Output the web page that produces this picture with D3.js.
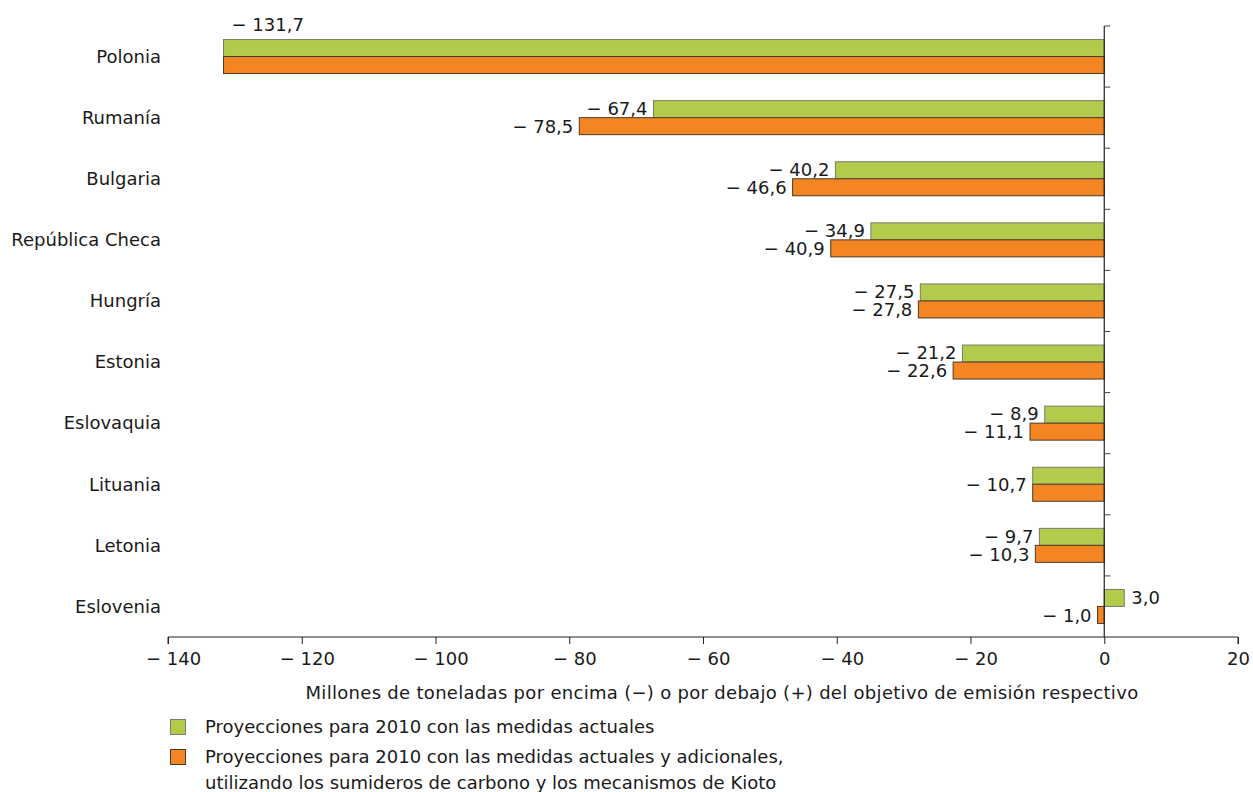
<!DOCTYPE html>
<html>
<head>
<meta charset="utf-8">
<script src="https://cdn.jsdelivr.net/npm/d3@7/dist/d3.min.js"></script>
<style>
  body { margin: 0; background: #fff; }
  svg text { font-family: "DejaVu Sans", Verdana, sans-serif; fill: #1a1a1a; }
</style>
</head>
<body>
<svg id="chart" width="1253" height="792"></svg>
<script>
// Countries, top to bottom
const countries = ["Polonia", "Rumanía", "Bulgaria", "República Checa", "Hungría",
  "Estonia", "Eslovaquia", "Lituania", "Letonia", "Eslovenia"];
// Current measures (Mt CO2-eq relative to target)
const currentMeasures = [-131.7, -67.4, -40.2, -34.9, -27.5, -21.2, -8.9, -10.7, -9.7, 3.0];
// Current + additional measures, sinks and Kyoto mechanisms
const additionalMeasures = [-131.7, -78.5, -46.6, -40.9, -27.8, -22.6, -11.1, -10.7, -10.3, -1.0];
// How the value labels are laid out per country: "pair" = one label per bar,
// "above" = single label above the pair, "shared" = one label centred on the pair
const labelMode = ["above", "pair", "pair", "pair", "pair", "pair", "pair", "shared", "pair", "pair"];
const xTicks = [-140, -120, -100, -80, -60, -40, -20, 0, 20];
const axisTitle = "Millones de toneladas por encima (\u2212) o por debajo (+) del objetivo de emisión respectivo";
const legendLabels = [
  ["Proyecciones para 2010 con las medidas actuales"],
  ["Proyecciones para 2010 con las medidas actuales y adicionales,",
   "utilizando los sumideros de carbono y los mecanismos de Kioto"]
];
const colors = ["#b3cb4b", "#f38523"];
const strokes = ["#7a7a6e", "#4a3a2a"];
const FS = 18;

const svg = d3.select("#chart");
const x = d3.scaleLinear().domain([-140, 20]).range([168, 1238]);
const y = d3.scaleBand().domain(countries).range([26, 637]).padding(0);
const barH = 17;

const fmt = v => {
  const s = Math.abs(v).toFixed(1).replace(".", ",");
  return v < 0 ? "\u2212 " + s : s;
};

// Bars
const series = [currentMeasures, additionalMeasures];
series.forEach((vals, si) => {
  svg.append("g").selectAll("rect")
    .data(countries)
    .join("rect")
    .attr("x", (d, i) => x(Math.min(0, vals[i])))
    .attr("width", (d, i) => Math.abs(x(vals[i]) - x(0)))
    .attr("y", d => y(d) + y.bandwidth() / 2 - barH + si * barH)
    .attr("height", barH)
    .attr("fill", colors[si])
    .attr("stroke", strokes[si])
    .attr("stroke-width", 1);
});

// Zero line with category separators
svg.append("line")
  .attr("x1", x(0)).attr("x2", x(0))
  .attr("y1", 26).attr("y2", 637)
  .attr("stroke", "#222").attr("stroke-width", 1.2);
svg.append("g").selectAll("line")
  .data(countries)
  .join("line")
  .attr("x1", x(0)).attr("x2", x(0) + 6)
  .attr("y1", d => y(d)).attr("y2", d => y(d))
  .attr("stroke", "#444").attr("stroke-width", 1);

// Category labels
svg.append("g").selectAll("text")
  .data(countries)
  .join("text")
  .attr("x", 161)
  .attr("y", d => y(d) + y.bandwidth() / 2)
  .attr("dy", "0.35em")
  .attr("text-anchor", "end")
  .attr("font-size", FS)
  .text(d => d);

// Value labels
const lbl = svg.append("g").attr("font-size", FS);
countries.forEach((c, i) => {
  const mid = y(c) + y.bandwidth() / 2;
  const mode = labelMode[i];
  if (mode === "above") {
    lbl.append("text")
      .attr("x", x(currentMeasures[i]) + 8)
      .attr("y", mid - barH - 15)
      .attr("dy", "0.35em")
      .text(fmt(currentMeasures[i]));
  } else if (mode === "shared") {
    const v = Math.min(currentMeasures[i], additionalMeasures[i]);
    lbl.append("text")
      .attr("x", x(v) - 6)
      .attr("y", mid)
      .attr("dy", "0.35em")
      .attr("text-anchor", "end")
      .text(fmt(currentMeasures[i]));
  } else {
    series.forEach((vals, si) => {
      const v = vals[i];
      const cy = mid - barH / 2 + si * barH + (si === 0 ? -0.5 : 0.5);
      lbl.append("text")
        .attr("x", v < 0 ? x(v) - 6 : x(v) + 7)
        .attr("y", cy)
        .attr("dy", "0.35em")
        .attr("text-anchor", v < 0 ? "end" : "start")
        .text(fmt(v));
    });
  }
});

// X axis
const xAxis = d3.axisBottom(x)
  .tickValues(xTicks)
  .tickSize(7)
  .tickPadding(8)
  .tickFormat(d => d < 0 ? "\u2212 " + Math.abs(d) : String(d));
const gx = svg.append("g").attr("transform", "translate(0,637)").call(xAxis);
gx.select(".domain").attr("stroke", "#222").attr("d", `M${x(-140)},7V0H${x(20)}V7`);
gx.selectAll(".tick line").attr("stroke", "#222");
gx.selectAll(".tick text")
  .attr("font-size", FS)
  .attr("font-family", "DejaVu Sans, Verdana, sans-serif")
  .attr("fill", "#1a1a1a")
  .attr("dx", d => d < 0 ? 5 : 0);

// Axis title
svg.append("text")
  .attr("x", 722).attr("y", 693)
  .attr("dy", "0.35em")
  .attr("text-anchor", "middle")
  .attr("font-size", FS)
  .attr("letter-spacing", 0.3)
  .text(axisTitle);

// Legend
const legY = [727, 757];
legendLabels.forEach((lines, i) => {
  svg.append("rect")
    .attr("x", 170.5).attr("y", legY[i] - 7.5)
    .attr("width", 15).attr("height", 15)
    .attr("fill", colors[i]).attr("stroke", strokes[i]);
  lines.forEach((t, j) => {
    svg.append("text")
      .attr("x", 205).attr("y", legY[i] + j * 26)
      .attr("dy", "0.35em")
      .attr("font-size", FS)
      .text(t);
  });
});
</script>
</body>
</html>
